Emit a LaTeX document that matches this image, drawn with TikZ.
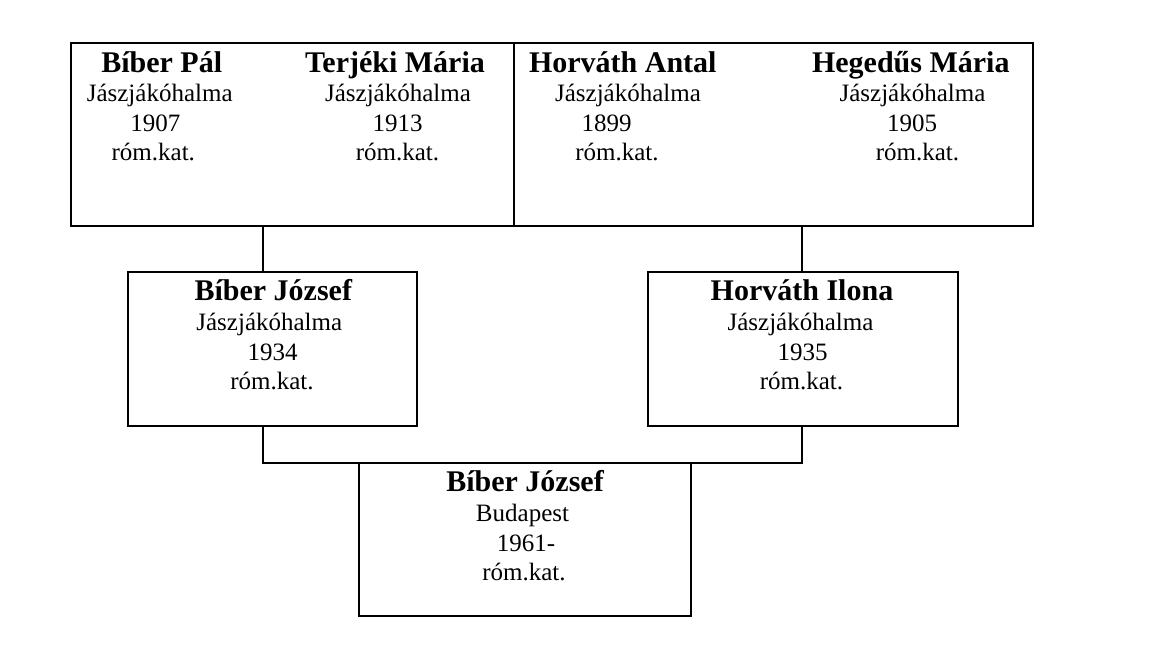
\documentclass[tikz,border=0pt]{standalone}
\usepackage{fontspec}
\setmainfont{Liberation Serif}
\begin{document}
\begin{tikzpicture}[x=1pt,y=-1pt,
  box/.style={draw, line width=1.8pt, rectangle, inner sep=0pt, outer sep=0pt},
  conn/.style={line width=1.4pt},
  nm/.style={anchor=base, inner sep=0pt, font=\fontsize{30}{36}\selectfont\bfseries},
  tx/.style={anchor=base, inner sep=0pt, font=\fontsize{25}{30}\selectfont}]
\useasboundingbox[fill=white] (0,0) rectangle (1168,648);
% boxes
\node[box, minimum width=443pt, minimum height=183pt] (topL) at (292.5,134.5) {};
\node[box, minimum width=519pt, minimum height=183pt] (topR) at (773.5,134.5) {};
\node[box, minimum width=289pt, minimum height=154pt] (midL) at (272.5,349) {};
\node[box, minimum width=310pt, minimum height=154pt] (midR) at (803,349) {};
\node[box, minimum width=332pt, minimum height=153pt] (bot) at (525,539.5) {};
% connector guide coordinates
\coordinate (cL) at (263,0);
\coordinate (cR) at (802,0);
\draw[conn] (cL |- topL.south) -- (cL |- midL.north);
\draw[conn] (cR |- topR.south) -- (cR |- midR.north);
\draw[conn] (cL |- midL.south) -- (cL |- bot.north) -- (cR |- bot.north) -- (cR |- midR.south);
% Bíber Pál
\node[nm] (p1n) at (161.7,72) {Bíber Pál};
\node[tx] (p1a) at (159.7,101) {Jászjákóhalma};
\node[tx] (p1b) at (155.3,131) {1907};
\node[tx] (p1c) at (153.3,160) {róm.kat.};
% Terjéki Mária
\node[nm] (p2n) at (395,72) {Terjéki Mária};
\node[tx] (p2a) at (398,101) {Jászjákóhalma};
\node[tx] (p2b) at (397.5,131) {1913};
\node[tx] (p2c) at (397.5,160) {róm.kat.};
% Horváth Antal
\node[nm] (p3n) at (622.8,72) {Horváth Antal};
\node[tx] (p3a) at (628,101) {Jászjákóhalma};
\node[tx] (p3b) at (606.7,131) {1899};
\node[tx] (p3c) at (617,160) {róm.kat.};
% Hegedűs Mária
\node[nm] (p4n) at (910.8,72) {Hegedűs Mária};
\node[tx] (p4a) at (912.5,101) {Jászjákóhalma};
\node[tx] (p4b) at (912,131) {1905};
\node[tx] (p4c) at (917.5,160) {róm.kat.};
% Bíber József (middle)
\node[nm] (m1n) at (273.3,300) {Bíber József};
\node[tx] (m1a) at (269.3,330) {Jászjákóhalma};
\node[tx] (m1b) at (272.5,360) {1934};
\node[tx] (m1c) at (272,389) {róm.kat.};
% Horváth Ilona
\node[nm] (m2n) at (802,300) {Horváth Ilona};
\node[tx] (m2a) at (800.5,330) {Jászjákóhalma};
\node[tx] (m2b) at (802.5,360) {1935};
\node[tx] (m2c) at (801.5,389) {róm.kat.};
% Bíber József (bottom)
\node[nm] (b1n) at (525,491) {Bíber József};
\node[tx] (b1a) at (522.5,521) {Budapest};
\node[tx] (b1b) at (526,551) {1961-};
\node[tx] (b1c) at (524,580) {róm.kat.};
\end{tikzpicture}
\end{document}
